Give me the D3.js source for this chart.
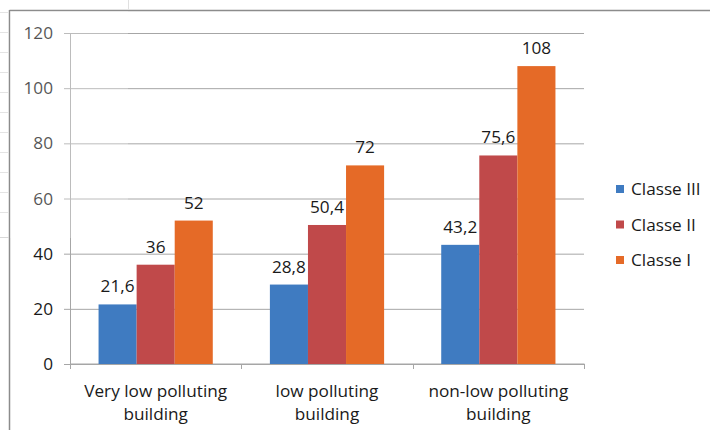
<!DOCTYPE html>
<html>
<head>
<meta charset="utf-8">
<script src="https://cdn.jsdelivr.net/npm/d3@7"></script>
<style>
  html, body { margin: 0; padding: 0; background: #fff; }
  svg { display: block; }
  text { font-family: "Open Sans", Lato, sans-serif; fill: #1a1a1a; }
</style>
</head>
<body>
<svg id="chart" width="710" height="430"></svg>
<script>
const categories = ["Very low polluting building", "low polluting building", "non-low polluting building"];
const categoryLines = [["Very low polluting", "building"], ["low polluting", "building"], ["non-low polluting", "building"]];
const seriesNames = ["Classe III", "Classe II", "Classe I"];
const classeIII = [21.6, 28.8, 43.2];
const classeII = [36, 50.4, 75.6];
const classeI = [52, 72, 108];
const yTicks = [0, 20, 40, 60, 80, 100, 120];
const colors = ["#3f7bc1", "#c0494a", "#e56a27"];

const seriesValues = [classeIII, classeII, classeI];

const svg = d3.select("#chart");
const fmt = d3.formatLocale({decimal: ",", thousands: ".", grouping: [3], currency: ["", ""]}).format("~g");
const FS = 17.2;

// outer frame
svg.append("line").attr("x1", 9.5).attr("x2", 710).attr("y1", 10.5).attr("y2", 10.5).attr("stroke", "#8c8c8c").attr("stroke-width", 1.5);
svg.append("line").attr("x1", 9.5).attr("x2", 9.5).attr("y1", 10).attr("y2", 430).attr("stroke", "#8c8c8c").attr("stroke-width", 1.5);

const x0 = d3.scaleBand().domain(categories).range([70, 584]).padding(0);
const bw = x0.bandwidth();
const x1 = d3.scaleBand().domain(seriesNames).range([bw / 6, bw * 5 / 6]).padding(0);
const y = d3.scaleLinear().domain([0, 120]).range([364, 33]);

// gridlines + y axis
const yAxis = d3.axisLeft(y).tickValues(yTicks).tickSize(-(584 - 64)).tickPadding(10).tickFormat(d3.format("d"));
const gy = svg.append("g").attr("transform", "translate(64,0)").call(yAxis);
gy.select(".domain").remove();
gy.selectAll(".tick line").attr("stroke", "#a6a6a6").attr("stroke-width", 1);
gy.selectAll(".tick text").attr("font-size", FS).attr("fill", "#1a1a1a").attr("x", -11)
  .style("font-family", "'Open Sans', Lato, sans-serif");

// vertical y axis line
svg.append("line").attr("x1", 70.5).attr("x2", 70.5).attr("y1", y(120)).attr("y2", 369)
  .attr("stroke", "#a6a6a6");

// x axis
const xAxis = d3.axisBottom(x0).tickSize(0).tickFormat("");
const gx = svg.append("g").attr("transform", `translate(0,${y(0)})`).call(xAxis);
gx.select(".domain").attr("stroke", "#a6a6a6").attr("d", `M70.5,0H584.5`);
const boundaries = categories.map(c => x0(c)).concat([x0(categories[categories.length - 1]) + bw]);
svg.selectAll(".xtick").data(boundaries).join("line")
  .attr("x1", d => Math.round(d) + 0.5).attr("x2", d => Math.round(d) + 0.5)
  .attr("y1", y(0)).attr("y2", y(0) + 5).attr("stroke", "#a6a6a6");

// category labels
categories.forEach((c, i) => {
  const t = svg.append("text").attr("x", x0(c) + bw / 2).attr("y", 397)
    .attr("text-anchor", "middle").attr("font-size", FS);
  categoryLines[i].forEach((ln, j) => {
    t.append("tspan").attr("x", x0(c) + bw / 2).attr("dy", j === 0 ? 0 : 23).text(ln);
  });
});

// bars
seriesNames.forEach((s, si) => {
  const g = svg.append("g");
  g.selectAll("rect").data(seriesValues[si]).join("rect")
    .attr("x", (d, i) => x0(categories[i]) + x1(s))
    .attr("y", d => y(d))
    .attr("width", x1.bandwidth())
    .attr("height", d => y(0) - y(d))
    .attr("fill", colors[si]);
  g.selectAll("text").data(seriesValues[si]).join("text")
    .attr("x", (d, i) => x0(categories[i]) + x1(s) + x1.bandwidth() / 2)
    .attr("y", d => y(d) - 12)
    .attr("text-anchor", "middle").attr("font-size", FS)
    .text(d => fmt(d));
});

// legend
const legend = svg.append("g");
seriesNames.forEach((s, i) => {
  const yy = 189 + i * 35.5;
  legend.append("rect").attr("x", 616).attr("y", yy - 4).attr("width", 8).attr("height", 8).attr("fill", colors[i]);
  legend.append("text").attr("x", 631).attr("y", yy + 6).attr("font-size", FS).text(s);
});

// faded background artefact at top-left
svg.append("rect").attr("x", 10).attr("y", 11).attr("width", 118).attr("height", 227)
  .attr("fill", "#fff").attr("opacity", 0.25);
svg.append("line").attr("x1", 128.5).attr("x2", 128.5).attr("y1", 0).attr("y2", 10).attr("stroke", "#e0e0e0");
svg.append("line").attr("x1", 0).attr("x2", 9).attr("y1", 237.5).attr("y2", 237.5).attr("stroke", "#d8d8d8");
[12, 32, 52, 72, 92, 112, 132, 152, 172, 192, 212].forEach(v => {
  svg.append("line").attr("x1", 0).attr("x2", 8).attr("y1", v + 0.5).attr("y2", v + 0.5).attr("stroke", "#e4e4e4");
});
</script>
</body>
</html>
